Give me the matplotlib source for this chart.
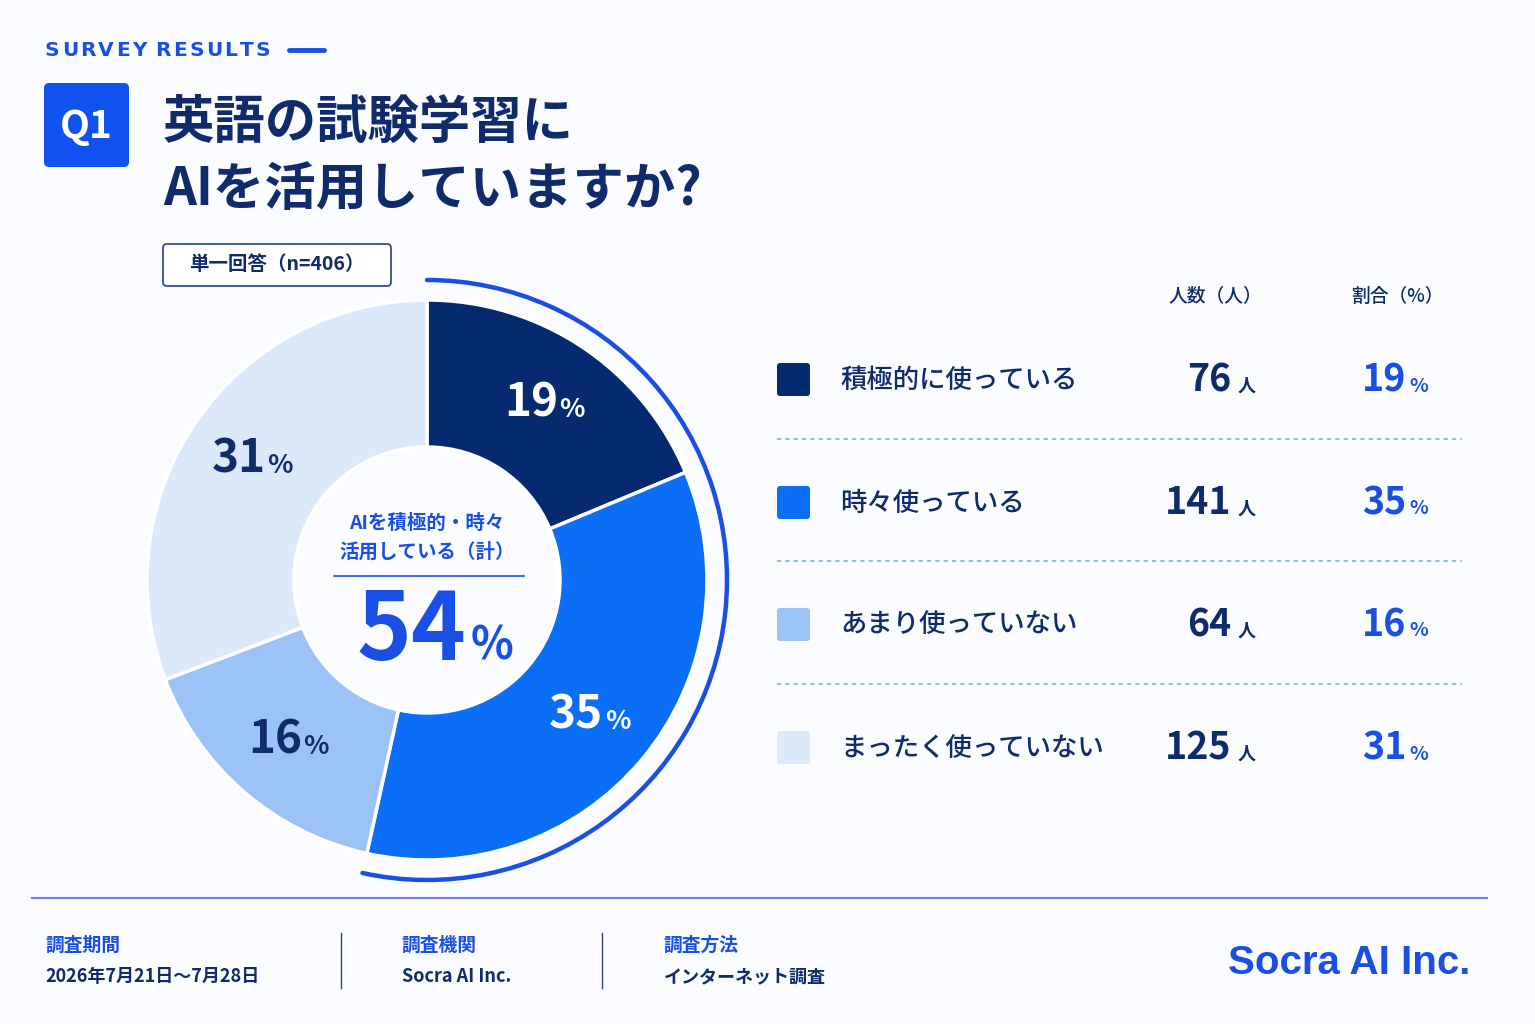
import numpy as np
import matplotlib
matplotlib.use("Agg")
import matplotlib.pyplot as plt
from matplotlib.patches import Arc, FancyBboxPatch
from matplotlib.offsetbox import TextArea, HPacker, AnnotationBbox

plt.rcParams['font.family'] = ['Noto Sans CJK JP', 'DejaVu Sans']

# data
categories = ['積極的に使っている', '時々使っている', 'あまり使っていない', 'まったく使っていない']
counts = [76, 141, 64, 125]
shares = [19, 35, 16, 31]
combined_share = 54
n_total = 406
colors = ['#062a70', '#0a6ef6', '#9cc3f7', '#dce9fb']
label_colors = ['white', 'white', '#0f2b6b', '#0f2b6b']
info_titles = ['調査期間', '調査機関', '調査方法']
info_values = ['2026年7月21日～7月28日', 'Socra AI Inc.', 'インターネット調査']

W, H = 1535, 1024
NAVY = '#0f2b6b'
BLUE = '#1a4fe6'


def Y(y):
    return H - y


def num_pct(ax, x, y, big, small, color, bs, ss, align=(0.5, 0.5), sep=2):
    a = TextArea(big, textprops=dict(fontsize=bs, fontweight='bold', color=color))
    b = TextArea(small, textprops=dict(fontsize=ss, fontweight='bold', color=color))
    pack = HPacker(children=[a, b], align='baseline', pad=0, sep=sep)
    ab = AnnotationBbox(pack, (x, y), frameon=False, box_alignment=align, pad=0)
    ax.add_artist(ab)


fig = plt.figure(figsize=(W / 100, H / 100), dpi=100, facecolor='#fbfcff')
ax = fig.add_axes([0, 0, 1, 1])
ax.set_facecolor('#fbfcff')
ax.set_xlim(0, W)
ax.set_ylim(0, H)
ax.set_aspect('equal')

# donut
cx, cy = 427, Y(580)
R = 280
wedges, _ = ax.pie(counts, colors=colors, startangle=90, counterclock=False,
                   center=(cx, cy), radius=R,
                   wedgeprops=dict(width=147, edgecolor='white', linewidth=2.5))
for w, s, lc in zip(wedges, shares, label_colors):
    th = np.deg2rad((w.theta1 + w.theta2) / 2)
    num_pct(ax, cx + 212 * np.cos(th), cy + 212 * np.sin(th), str(s), '%', lc, 33, 19, sep=1)

span = 360 * (counts[0] + counts[1]) / sum(counts)
ax.add_patch(Arc((cx, cy), 600, 600, theta1=90 - span, theta2=90,
                 lw=3.2, color=BLUE, capstyle='round'))

ax.text(cx, Y(538), 'AIを積極的・時々\n活用している（計）', ha='center', va='center',
        fontsize=14, color=BLUE, fontweight='bold', linespacing=1.6)
ax.plot([334, 524], [Y(576)] * 2, color=BLUE, lw=1.2)
num_pct(ax, cx + 8, Y(632), str(combined_share), '%', BLUE, 67, 32, sep=3)

# header, letter spaced
ax.set_xlim(0, W)
ax.set_ylim(0, H)
fig.canvas.draw()
r = fig.canvas.get_renderer()
xh = 45
for ch in 'SURVEY RESULTS':
    t = ax.text(xh, Y(50), ch, fontsize=14.5, fontweight='bold', color=BLUE, va='center',
                family='DejaVu Sans')
    xh += t.get_window_extent(r).width + 2.2 if ch != ' ' else 7
ax.plot([289, 324], [Y(50)] * 2, color=BLUE, lw=3.5, solid_capstyle='round')
ax.add_patch(FancyBboxPatch((44, Y(167)), 85, 84, boxstyle='round,pad=0,rounding_size=5',
                            fc='#0f52f0', ec='none'))
ax.text(86, Y(126), 'Q1', color='white', fontsize=28, fontweight='bold', ha='center', va='center')
ax.text(163, Y(122), '英語の試験学習に', fontsize=37, fontweight='bold', color=NAVY, va='center')
ax.text(163, Y(189), 'AIを活用していますか?', fontsize=37, fontweight='bold', color=NAVY, va='center')

ax.add_patch(FancyBboxPatch((163, Y(286)), 228, 42, boxstyle='round,pad=0,rounding_size=4',
                            fc='white', ec='#233f88', lw=1.2))
ax.text(277, Y(265), f'単一回答（n={n_total}）', fontsize=14, fontweight='bold', color=NAVY,
        ha='center', va='center')

# table
ax.text(1215, Y(296), '人数（人）', fontsize=13.5, color=NAVY, ha='center', va='center', fontweight='medium')
ax.text(1397, Y(296), '割合（%）', fontsize=13.5, color=NAVY, ha='center', va='center', fontweight='medium')
row_y = [380, 503, 625, 748]
for i, (cat, c, s, col) in enumerate(zip(categories, counts, shares, colors)):
    y = Y(row_y[i])
    ax.add_patch(FancyBboxPatch((777, y - 16), 33, 33, boxstyle='round,pad=0,rounding_size=3',
                                fc=col, ec='none'))
    ax.text(840, y, cat, fontsize=19, color=NAVY, va='center', fontweight='medium')
    num_pct(ax, 1256, y, str(c), '人', NAVY, 27, 13, align=(1, 0.5), sep=5)
    num_pct(ax, 1428, y, str(s), '%', BLUE, 27, 14, align=(1, 0.5), sep=2)
    if i < len(row_y) - 1:
        ym = Y((row_y[i] + row_y[i + 1]) / 2 - 3)
        ax.plot([777, 1462], [ym, ym], color='#8fbff0', lw=1.5, linestyle=(0, (2, 2)))

# footer
ax.plot([32, 1487], [Y(898)] * 2, color='#6b85e6', lw=1.5)
for x, t, v in zip([45, 402, 664], info_titles, info_values):
    ax.text(x, Y(945), t, fontsize=13.5, fontweight='bold', color=BLUE, va='center')
    ax.text(x, Y(977), v, fontsize=13, fontweight='bold', color=NAVY, va='center')
for x in [341, 602]:
    ax.plot([x, x], [Y(933), Y(988)], color='#2a3f8a', lw=1)
ax.text(1470, Y(963), 'Socra AI Inc.', fontsize=29, fontweight='bold', color=BLUE,
        ha='right', va='center', family='Liberation Sans')

ax.set_xlim(0, W)
ax.set_ylim(0, H)
ax.set_aspect('equal')
ax.axis('off')
fig.savefig('out.png', dpi=100, facecolor=fig.get_facecolor())
